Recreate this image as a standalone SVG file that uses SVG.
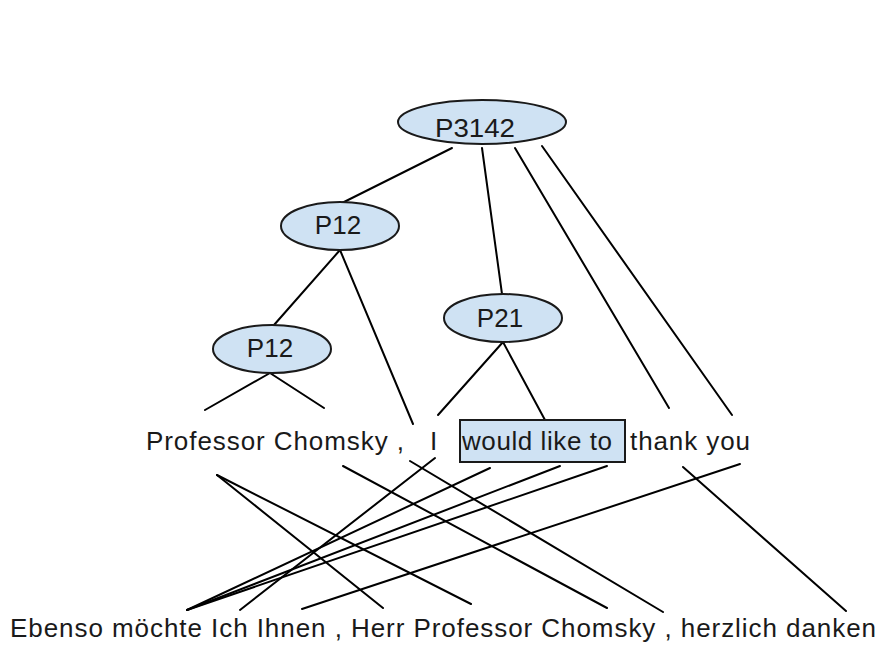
<svg xmlns="http://www.w3.org/2000/svg" width="880" height="648" viewBox="0 0 880 648">
  <style>
    .node ellipse, .node rect { fill: #cfe2f3; stroke: #1a1a1a; stroke-width: 2; }
    .lbl { font-family: "Liberation Sans", Arial, sans-serif; font-size: 26px; fill: #1a1a1a; }
    .word { font-family: "Liberation Sans", Arial, sans-serif; font-size: 26px; fill: #1a1a1a; }
    #edges line { stroke: #000; stroke-width: 2; stroke-linecap: round; }
  </style>
  <rect width="880" height="648" fill="#fff"/>

  <!-- tree edges and word alignments -->
  <g id="edges">
    <!-- P3142 -->
    <line x1="452" y1="148" x2="342" y2="203"/>
    <line x1="482" y1="148" x2="502" y2="294"/>
    <line x1="515" y1="148" x2="669" y2="408"/>
    <line x1="542" y1="146" x2="732" y2="415"/>
    <!-- upper P12 -->
    <line x1="340" y1="250" x2="274" y2="325"/>
    <line x1="340" y1="250" x2="413" y2="424"/>
    <!-- lower P12 -->
    <line x1="270" y1="373" x2="205" y2="410"/>
    <line x1="270" y1="373" x2="324" y2="408"/>
    <!-- P21 -->
    <line x1="503" y1="342" x2="438" y2="415"/>
    <line x1="503" y1="342" x2="545" y2="420"/>
    <!-- alignments between English and German -->
    <line x1="217" y1="475" x2="383" y2="608"/>
    <line x1="217" y1="475" x2="471" y2="604"/>
    <line x1="343" y1="466" x2="607" y2="608"/>
    <line x1="410" y1="461" x2="663" y2="612"/>
    <line x1="435" y1="458" x2="240" y2="610"/>
    <line x1="490" y1="468" x2="187" y2="610"/>
    <line x1="560" y1="466" x2="187" y2="610"/>
    <line x1="607" y1="466" x2="187" y2="610"/>
    <line x1="740" y1="464" x2="302" y2="609"/>
    <line x1="683" y1="467" x2="846" y2="611"/>
  </g>

  <g id="n-p3142" class="node">
    <ellipse cx="482" cy="122" rx="84" ry="22"/>
    <text class="lbl" x="475" y="137" text-anchor="middle" textLength="80" lengthAdjust="spacingAndGlyphs">P3142</text>
  </g>
  <g id="n-p12-upper" class="node">
    <ellipse cx="340" cy="226" rx="59" ry="24"/>
    <text class="lbl" x="338" y="234" text-anchor="middle">P12</text>
  </g>
  <g id="n-p12-lower" class="node">
    <ellipse cx="272" cy="349" rx="59" ry="24"/>
    <text class="lbl" x="270" y="357" text-anchor="middle">P12</text>
  </g>
  <g id="n-p21" class="node">
    <ellipse cx="503" cy="318" rx="59" ry="24"/>
    <text class="lbl" x="500" y="327" text-anchor="middle">P21</text>
  </g>

  <!-- English sentence -->
  <g id="n-en-professor">
    <text class="word" x="146" y="450" textLength="258" lengthAdjust="spacing">Professor Chomsky ,</text>
  </g>
  <g id="n-en-i">
    <text class="word" x="430" y="450">I</text>
  </g>
  <g id="n-en-would" class="node">
    <rect x="460" y="420" width="165" height="42"/>
    <text class="word" x="462" y="450" textLength="150" lengthAdjust="spacing">would like to</text>
  </g>
  <g id="n-en-thank">
    <text class="word" x="630" y="450" textLength="120" lengthAdjust="spacing">thank you</text>
  </g>

  <!-- German sentence -->
  <g id="n-de">
    <text class="word" x="10" y="637" textLength="866" lengthAdjust="spacing">Ebenso möchte Ich Ihnen , Herr Professor Chomsky , herzlich danken</text>
  </g>
</svg>
